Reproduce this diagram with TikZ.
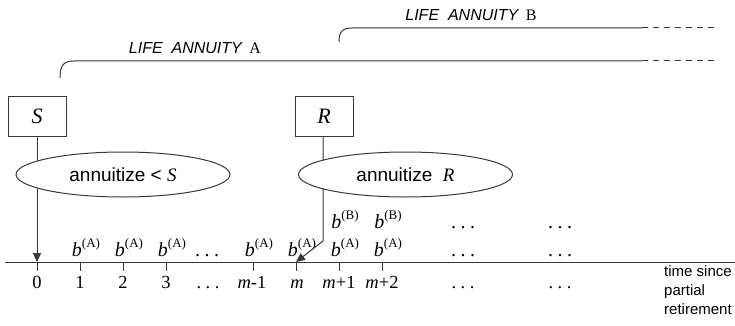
\documentclass[tikz,border=0pt]{standalone}
\usepackage{fontspec}
\setmainfont{Liberation Serif}
\setsansfont{Liberation Sans}
\usetikzlibrary{arrows.meta,shapes.geometric}
\newcommand{\bsup}[1]{\textit{b}\raisebox{0.42em}{\fontsize{13}{13}\selectfont(#1)}}
\newcommand{\sdots}{.\hspace{4.5pt}.\hspace{4.5pt}.}
\tikzset{
  ln/.style={line width=1pt, draw=black!78},
  boxnode/.style={draw=black!78, line width=1pt, minimum width=58pt, minimum height=39pt, inner sep=0pt, font=\fontsize{22}{22}\selectfont\itshape},
  oval/.style={ellipse, draw=black!78, line width=1pt, fill=white, minimum width=214pt, minimum height=45pt, inner sep=0pt, font=\sffamily\fontsize{19}{19}\selectfont},
  blab/.style={anchor=base, inner sep=0pt, font=\fontsize{20}{20}\selectfont},
  tlab/.style={anchor=base, inner sep=0pt, font=\fontsize{18.5}{18.5}\selectfont},
  ann/.style={inner sep=0pt, font=\fontsize{16}{16}\selectfont},
  tip/.style={-{Triangle[length=9pt,width=8pt]}},
  dsh/.style={ln, dash pattern=on 6pt off 5pt}
}
\begin{document}
\begin{tikzpicture}[x=1pt,y=-1pt]
\useasboundingbox (0,0) rectangle (735,326);
% axis
\coordinate (axL) at (5,262);
\coordinate (axR) at (735,262);
\draw[ln] (axL) -- (axR);
\foreach \n/\x in {0/37,1/80,2/123,3/166,m1/253,m/296,p1/339,p2/382}{
  \coordinate (t\n) at (\x,262);
  \draw[ln] (t\n) -- ++(0,9);
}
% tick labels
\node[tlab] (l0) at (37,288) {0};
\node[tlab] (l1) at (80,288) {1};
\node[tlab] (l2) at (123,288) {2};
\node[tlab] (l3) at (166,288) {3};
\node[tlab] (ld1) at (208,288) {\sdots};
\node[tlab] (lm1) at (252,288) {\textit{m}-1};
\node[tlab] (lm) at (297,288) {\textit{m}};
\node[tlab] (lp1) at (339,288) {\textit{m}+1};
\node[tlab] (lp2) at (382,288) {\textit{m}+2};
\node[tlab] (ld2) at (463,288) {\sdots};
\node[tlab] (ld3) at (560,288) {\sdots};
\node[anchor=north west, align=left, inner sep=0pt, font=\sffamily\fontsize{15}{19}\selectfont] (tsince) at (664,265) {time since\\partial\\retirement};
% b labels
\node[blab] (b1) at (86,256) {\bsup{A}};
\node[blab] (b2) at (129,256) {\bsup{A}};
\node[blab] (b3) at (172,256) {\bsup{A}};
\node[blab] (bd) at (207,256) {\sdots};
\node[blab] (bm1) at (259,256) {\bsup{A}};
\node[blab] (bm) at (302,256) {\bsup{A}};
\node[blab] (bp1) at (345,256) {\bsup{A}};
\node[blab] (bp2) at (388,256) {\bsup{A}};
\node[blab] (bda) at (463,256) {\sdots};
\node[blab] (bdb) at (560,256) {\sdots};
\node[blab] (c1) at (345,228) {\bsup{B}};
\node[blab] (c2) at (388,228) {\bsup{B}};
\node[blab] (cda) at (463,228) {\sdots};
\node[blab] (cdb) at (560,228) {\sdots};
% boxes and lines
\node[boxnode] (S) at (37,116.5) {S};
\node[boxnode] (R) at (324,116.5) {R};
\coordinate (bend) at (323,241);
\draw[ln,tip] (S.south) -- (t0);
\draw[ln,tip] (R.south -| bend) -- (bend) -- (tm);
\node[oval] (E1) at (123,174.5) {annuitize < \textrm{\textit{S}}};
\node[oval] (E2) at (405.5,174.5) {annuitize\hspace{0.55em}\textrm{\textit{R}}};
% annuity brackets
\coordinate (As) at (60,78);
\coordinate (Ae) at (642,61);
\coordinate (Ad) at (715,61);
\draw[ln] (As) .. controls (60,66) and (63,61) .. (74,61) -- (Ae);
\draw[dsh] (Ae) -- (Ad);
\node[ann] (LA) at (195,48) {\textsf{\textit{LIFE\ \ ANNUITY}}\ \,A};
\coordinate (Bs) at (339,42);
\coordinate (Be) at (642,28);
\coordinate (Bd) at (715,28);
\draw[ln] (Bs) .. controls (339,32) and (342,28) .. (352,28) -- (Be);
\draw[dsh] (Be) -- (Bd);
\node[ann] (LB) at (471,15) {\textsf{\textit{LIFE\ \ ANNUITY}}\ \,B};
\end{tikzpicture}
\end{document}
